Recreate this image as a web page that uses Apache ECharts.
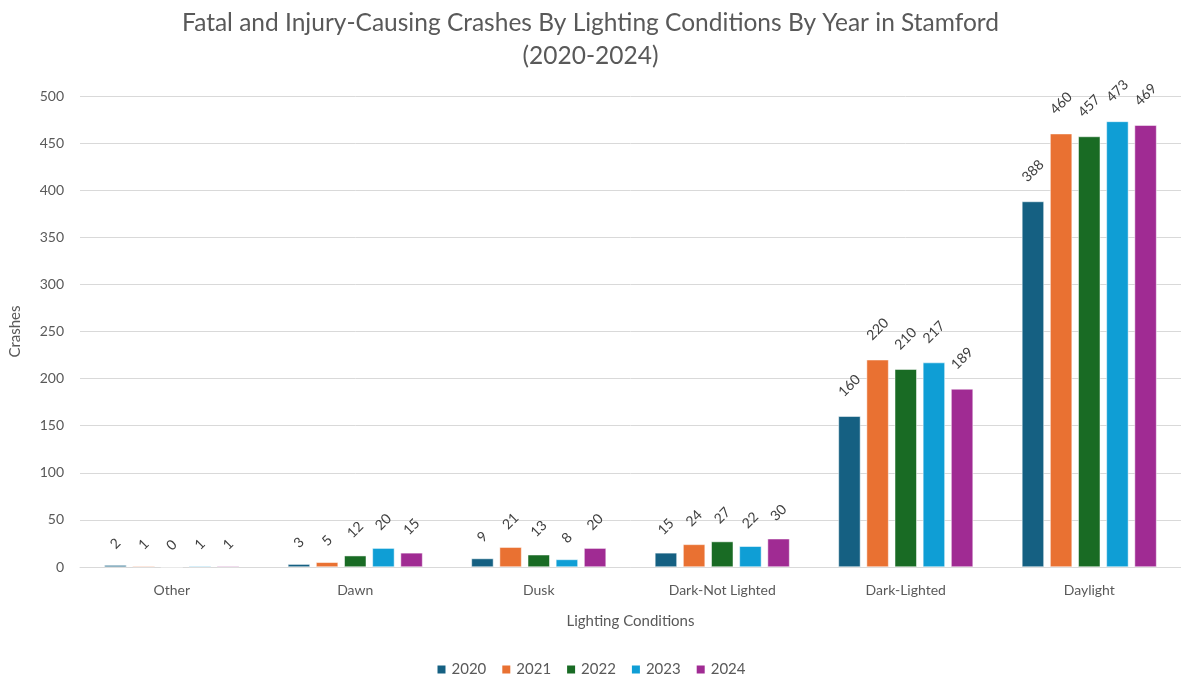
<!DOCTYPE html>
<html>
<head>
<meta charset="utf-8">
<script src="https://cdn.jsdelivr.net/npm/echarts@6/dist/echarts.min.js"></script>
<style>
  html, body { margin: 0; padding: 0; background: #fff; }
  #chart { width: 1181px; height: 680px; }
</style>
</head>
<body>
<div id="chart"></div>
<script>
// 光照条件分类
const categories = ['Other', 'Dawn', 'Dusk', 'Dark-Not Lighted', 'Dark-Lighted', 'Daylight']
const years = ['2020', '2021', '2022', '2023', '2024']
const colors = ['#156082', '#E97132', '#196B24', '#0F9ED5', '#A02B93']

const y2020 = [2, 3, 9, 15, 160, 388]
const y2021 = [1, 5, 21, 24, 220, 460]
const y2022 = [0, 12, 13, 27, 210, 457]
const y2023 = [1, 20, 8, 22, 217, 473]
const y2024 = [1, 15, 20, 30, 189, 469]
const allData = [y2020, y2021, y2022, y2023, y2024]

const textColor = '#595959'
const font = 'Lato, "Open Sans", sans-serif'

// 旋转标签居中于柱顶上方，越长的文字离柱子越远
function toItems (arr) {
  return arr.map(v => ({
    value: v,
    label: { distance: 17 + 4.5 * String(v).length }
  }))
}

const chart = echarts.init(document.getElementById('chart'))
const option = {
  color: colors,
  title: {
    text: 'Fatal and Injury-Causing Crashes By Lighting Conditions By Year in Stamford\n(2020-2024)',
    left: 'center',
    top: 2,
    textStyle: {
      fontFamily: font,
      fontSize: 24.5,
      fontWeight: 'normal',
      color: textColor,
      lineHeight: 33
    }
  },
  legend: {
    data: years,
    bottom: -2,
    left: 'center',
    icon: 'rect',
    itemWidth: 10,
    itemHeight: 10,
    itemGap: 14,
    textStyle: { color: textColor, fontSize: 15, fontFamily: font }
  },
  grid: {
    left: 78,
    right: -8,
    top: 96,
    bottom: 113
  },
  xAxis: {
    type: 'category',
    data: categories,
    name: 'Lighting Conditions',
    nameLocation: 'middle',
    nameGap: 47,
    nameTextStyle: { color: textColor, fontSize: 15, fontFamily: font },
    axisLine: { lineStyle: { color: '#d9d9d9' } },
    axisTick: { show: false },
    axisLabel: { color: textColor, fontSize: 14, fontFamily: font, margin: 16 }
  },
  yAxis: {
    type: 'value',
    min: 0,
    max: 500,
    interval: 50,
    name: 'Crashes',
    nameLocation: 'middle',
    nameGap: 57,
    nameTextStyle: { color: textColor, fontSize: 15, fontFamily: font },
    axisLine: { show: false },
    axisTick: { show: false },
    axisLabel: { color: textColor, fontSize: 14, fontFamily: font, margin: 16 },
    splitLine: { lineStyle: { color: '#d9d9d9' } }
  },
  series: years.map((name, i) => ({
    name: name,
    type: 'bar',
    data: toItems(allData[i]),
    barWidth: 22,
    barGap: '28%',
    itemStyle: { borderColor: '#ffffff', borderWidth: 0.5 },
    label: {
      show: true,
      position: 'top',
      rotate: 45,
      align: 'center',
      verticalAlign: 'middle',
      color: '#404040',
      fontSize: 14,
      fontFamily: font
    }
  }))
}
chart.setOption(option)
</script>
</body>
</html>
